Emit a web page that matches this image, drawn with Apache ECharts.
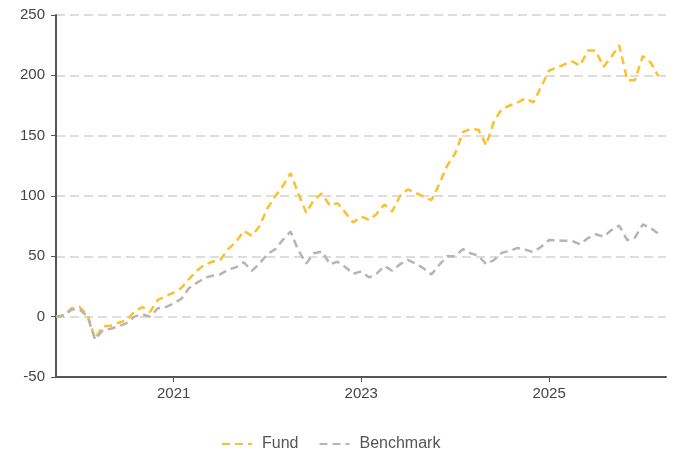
<!DOCTYPE html>
<html>
<head>
<meta charset="utf-8">
<script src="https://cdn.jsdelivr.net/npm/echarts@6/dist/echarts.min.js"></script>
<style>
	html, body { margin: 0; padding: 0; background: #fff; }
	#main { width: 675px; height: 452px; }
</style>
</head>
<body>
<div id="main"></div>
<script>
// monthly points, Oct 2019 .. Mar 2026
var startYear = 2019, startMonth = 10;
var fund = [0, 1, 7, 8, 1, -18, -8, -7.5, -5, -3, 4, 8, 4, 14, 17,
	20, 24, 31, 38, 43, 45.5, 47, 56, 62, 71, 67, 75,
	90, 100, 108, 119, 102, 86, 97, 102, 92, 94, 86, 78,
	83, 80, 85, 93, 87, 100, 105.5, 102.5, 99.5, 96.5, 110, 125,
	135, 153, 155.5, 155, 142, 162, 172, 175, 177.5, 181, 177.5, 190.5,
	204, 206.5, 209, 211.5, 208, 220.5, 220.5, 207, 215.5, 225, 196, 196,
	216, 210.5, 199.5];
var benchmark = [0, 1, 6, 6, 0, -19, -11, -10, -8, -5.5, 0, 2, 0, 7, 8,
	11, 15, 23.5, 28, 32, 34, 35, 39, 41, 45, 38, 44,
	52, 56, 63.5, 70.5, 55, 44, 52.5, 54, 43.5, 45.5, 41, 35.5,
	37.5, 32.5, 35.5, 42, 38, 43.5, 47, 44, 40, 35, 43, 50,
	50, 56, 52.5, 50.5, 43.5, 47, 53, 54.5, 57, 55.5, 53.5, 58,
	63.5, 63.3, 63, 62.7, 60, 65, 68.3, 66.3, 71.8, 75.5, 63.5, 65.5,
	76.5, 73.3, 69];
var yTicks = [-50, 0, 50, 100, 150, 200, 250];

function monthDate(i) {
	var m = startMonth - 1 + i;
	return Date.UTC(startYear + Math.floor(m / 12), m % 12, 1);
}
function pairs(values) {
	var out = [];
	for (var i = 0; i < values.length; i++) {
		out.push([monthDate(i), values[i]]);
	}
	return out;
}

var chart = echarts.init(document.getElementById('main'));
var font = "'Liberation Sans', Arial, sans-serif";
var option = {
	animation: false,
	useUTC: true,
	textStyle: { fontFamily: font },
	grid: { left: 56, right: 9, top: 15, bottom: 75, containLabel: false },
	legend: {
		top: 431,
		left: 216,
		itemWidth: 30,
		itemHeight: 10,
		itemGap: 20,
		itemStyle: { opacity: 0 },
		textStyle: { color: '#555', fontSize: 16, fontFamily: font, padding: [0, 0, 0, 5] },
		data: ['Fund', 'Benchmark']
	},
	xAxis: {
		type: 'time',
		min: monthDate(0),
		max: monthDate(fund.length),
		splitNumber: 3,
		axisLine: { onZero: false, lineStyle: { color: '#555', width: 2 } },
		axisTick: { show: true, length: 5, lineStyle: { color: '#555' } },
		axisLabel: {
			color: '#444', fontSize: 15, margin: 9,
			formatter: function(v) { return new Date(v).getUTCFullYear() + ''; }
		},
		splitLine: { show: false }
	},
	yAxis: {
		type: 'value',
		min: yTicks[0],
		max: yTicks[yTicks.length - 1],
		interval: 50,
		axisLine: { show: true, lineStyle: { color: '#555', width: 2 } },
		axisTick: { show: true, length: 5, lineStyle: { color: '#555' } },
		axisLabel: { color: '#444', fontSize: 15, margin: 11 },
		splitLine: { lineStyle: { color: '#dddddd', width: 2, type: [9, 5] } }
	},
	series: [{
		name: 'Fund',
		type: 'line',
		data: pairs(fund),
		symbol: 'none',
		lineStyle: { color: '#FBC02D', width: 2.5, type: [8, 5] },
		itemStyle: { color: '#FBC02D' }
	}, {
		name: 'Benchmark',
		type: 'line',
		data: pairs(benchmark),
		symbol: 'none',
		lineStyle: { color: '#B5B5B5', width: 2.5, type: [8, 5] },
		itemStyle: { color: '#B5B5B5' }
	}]
};
chart.setOption(option);
</script>
</body>
</html>
